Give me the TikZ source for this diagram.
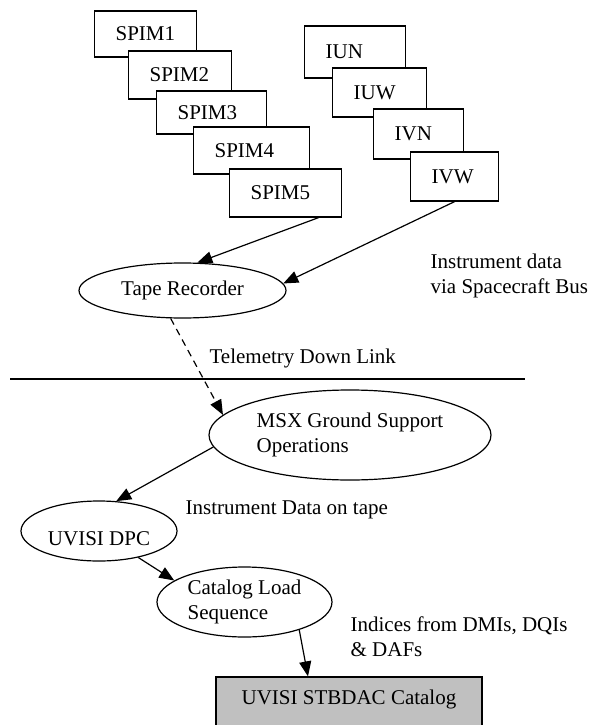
\documentclass[tikz,border=0pt]{standalone}
\usepackage{fontspec}
\setmainfont{Liberation Serif}
\usetikzlibrary{calc,positioning,shapes,arrows.meta}
\definecolor{catgray}{RGB}{192,192,192}

\begin{document}
\begin{tikzpicture}[x=1pt,y=-1pt,
	font=\fontsize{21}{25}\selectfont,
	line width=1.2pt,
	>={Triangle[length=15pt,width=12pt]},
	inst/.style={draw,fill=white,align=left,inner xsep=21pt,inner ysep=0pt,anchor=west},
	proc/.style={draw,ellipse,fill=white,inner sep=0pt,align=left},
	note/.style={align=left,inner sep=0pt}]
	\useasboundingbox (0,0) rectangle (594,725);
	\clip (0,0) rectangle (594,725);

	\foreach \nm/\lx/\cy/\bw/\hh in {SPIM1/94/34/60/46, SPIM2/128/75/61/48, SPIM3/156/112.5/68/43,
		SPIM4/193/150.5/74/47, SPIM5/229/193/70/48,
		IUN/304/52/59/52, IUW/332/92.5/52/49, IVN/373/134/48/50, IVW/410/176.5/46/49}{
	\node[inst,text width=\bw pt,minimum height=\hh pt] (\nm) at (\lx,\cy) {\nm};
	}

	\node[proc,minimum width=207pt,minimum height=55pt] (tape) at (182.5,290.5) {Tape Recorder};
	\node[proc,minimum width=282pt,minimum height=90pt] (msx) at (350,435) {MSX Ground Support\\Operations};
	\node[proc,minimum width=156pt,minimum height=60pt,text height=30pt] (dpc) at (99,531) {UVISI DPC};
	\node[proc,minimum width=175pt,minimum height=70pt] (load) at (244.5,602) {Catalog Load\\Sequence};
	\node[draw,fill=catgray,minimum width=266pt,minimum height=58pt,text depth=18pt] (catalog) at (349,706) {UVISI STBDAC Catalog};

	\node[note,anchor=north west] (busnote) at (430,253.7) {Instrument data\\via Spacecraft Bus};
	\node[note,anchor=base west] (tmnote) at (209,363) {Telemetry Down Link};
	\node[note,anchor=base west] (tapenote) at (185,514) {Instrument Data on tape};
	\node[note,anchor=north west] (idxnote) at (350,615.7) {Indices from DMIs, DQIs\\\& DAFs};

	\coordinate (gl) at (10,379);
	\coordinate (gr) at (525,379);
	\draw (gl) -- (gr);

	\draw[->] ([xshift=33pt]SPIM5.south) -- (tape.62);
	\draw[->] (IVW.south) -- (tape.4);
	\draw[->,dash pattern=on 7pt off 5pt] (tape.247) -- (msx.171);
	\draw[->] (msx.185) -- (dpc.60);
	\draw[->] (dpc.-34) -- (load.163);
	\draw[->] (load.-27) -- ([xshift=-41pt]catalog.north);
\end{tikzpicture}
\end{document}
